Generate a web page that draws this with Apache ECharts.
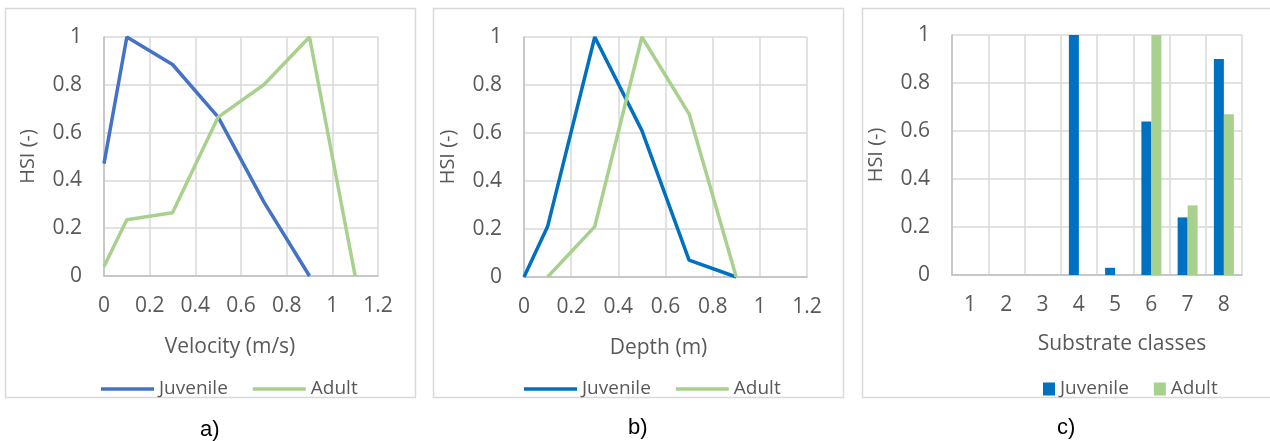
<!DOCTYPE html>
<html>
<head>
<meta charset="utf-8">
<script src="https://cdn.jsdelivr.net/npm/echarts@6/dist/echarts.min.js"></script>
<style>
	html, body { margin: 0; padding: 0; background: #fff; }
	#hsi { width: 1270px; height: 441px; }
</style>
</head>
<body>
<div id="hsi"></div>
<script>
	// a) velocity curves
	var velXJuv = [0, 0.1, 0.3, 0.5, 0.7, 0.9];
	var velJuv = [0.47, 1, 0.885, 0.665, 0.31, 0];
	var velXAdult = [0, 0.1, 0.3, 0.5, 0.7, 0.9, 1.1];
	var velAdult = [0.04, 0.235, 0.265, 0.665, 0.8, 1, 0];

	// b) depth curves
	var depthXJuv = [0, 0.1, 0.3, 0.5, 0.7, 0.9];
	var depthJuv = [0, 0.21, 1, 0.61, 0.07, 0];
	var depthXAdult = [0.1, 0.3, 0.5, 0.7, 0.9];
	var depthAdult = [0, 0.21, 1, 0.68, 0];

	// c) substrate classes
	var substrateClasses = ['1', '2', '3', '4', '5', '6', '7', '8'];
	var subJuv = [0, 0, 0, 1, 0.03, 0.64, 0.24, 0.9];
	var subAdult = [0, 0, 0, 0, 0, 1, 0.29, 0.67];

	var xTicks = [0, 1.2, 0.2]; // min, max, interval
	var yTicks = [0, 1, 0.2];

	var font = '"Open Sans"';
	var grey = '#595959';
	var gridColor = '#D9D9D9';

	// x,y -> [x,y] pairs
	function pairs(xs, ys) {
		var res = [];
		for (var i = 0; i < xs.length; i++) {
			res.push([xs[i], ys[i]]);
		}
		return res;
	}

	var chart = echarts.init(document.getElementById('hsi'));

	var grids = [
		{left: 104, top: 37, width: 274, height: 239},
		{left: 524, top: 37, width: 283, height: 240},
		{left: 952, top: 35, width: 290, height: 240}
	];

	function yAxis(i) {
		return {
			type: 'value', gridIndex: i,
			min: yTicks[0], max: yTicks[1], interval: yTicks[2],
			name: 'HSI (-)', nameLocation: 'middle', nameGap: 66,
			nameTextStyle: {fontFamily: font, fontSize: 20, color: grey},
			axisLine: {show: true, lineStyle: {color: '#BFBFBF', width: 1.5}},
			axisTick: {show: false},
			axisLabel: {fontFamily: font, fontSize: 21, color: grey, margin: 22},
			splitLine: {lineStyle: {color: gridColor, width: 1.5}}
		};
	}

	function valueX(i, name, pad) {
		return {
			type: 'value', gridIndex: i,
			min: xTicks[0], max: xTicks[1], interval: xTicks[2],
			name: name, nameLocation: 'middle', nameGap: 61,
			nameTextStyle: {fontFamily: font, fontSize: 21, color: grey, padding: pad},
			axisLine: {show: true, lineStyle: {color: '#BFBFBF', width: 1.5}},
			axisTick: {show: false},
			axisLabel: {fontFamily: font, fontSize: 21, color: grey, margin: 20},
			splitLine: {show: true, lineStyle: {color: gridColor, width: 1.5}}
		};
	}

	function lineSeries(name, idx, data, color) {
		return {
			name: name, type: 'line',
			xAxisIndex: idx, yAxisIndex: idx,
			symbol: 'none',
			lineStyle: {color: color, width: 3.5},
			itemStyle: {color: color},
			data: data
		};
	}

	function legend(left, items, w, h) {
		return {
			left: left, top: 373,
			icon: 'rect',
			itemWidth: w, itemHeight: h, itemGap: 25,
			textStyle: {fontFamily: font, fontSize: 19, color: grey, lineHeight: 22},
			data: items
		};
	}

	var option = {
		animation: false,
		grid: grids,
		xAxis: [
			valueX(0, 'Velocity (m/s)', [0, 22, 0, 0]),
			valueX(1, 'Depth (m)', [0, 14, 0, 0]),
			{
				type: 'category', gridIndex: 2, data: substrateClasses,
				name: 'Substrate classes', nameLocation: 'middle', nameGap: 59,
				nameTextStyle: {fontFamily: font, fontSize: 21, color: grey, padding: [0, 0, 0, 50]},
				axisLine: {show: true, lineStyle: {color: '#BFBFBF', width: 1.5}},
				axisTick: {show: false},
				axisLabel: {fontFamily: font, fontSize: 21, color: grey, margin: 20},
				splitLine: {show: true, lineStyle: {color: gridColor, width: 1.5}}
			}
		],
		yAxis: [yAxis(0), yAxis(1), yAxis(2)],
		legend: [
			legend(96, [
				{name: 'Juvenile', itemStyle: {color: '#4472C4'}},
				{name: 'Adult', itemStyle: {color: '#A9D18E'}}
			], 53, 3.5),
			legend(519, [
				{name: 'Juvenile', itemStyle: {color: '#0070C0'}},
				{name: 'Adult', itemStyle: {color: '#A9D18E'}}
			], 53, 3.5),
			legend(1038, [
				{name: 'Juvenile', itemStyle: {color: '#0070C0'}},
				{name: 'Adult', itemStyle: {color: '#A9D18E'}}
			], 12, 13)
		],
		series: [
			lineSeries('Juvenile', 0, pairs(velXJuv, velJuv), '#4472C4'),
			lineSeries('Adult', 0, pairs(velXAdult, velAdult), '#A9D18E'),
			lineSeries('Juvenile', 1, pairs(depthXJuv, depthJuv), '#0070C0'),
			lineSeries('Adult', 1, pairs(depthXAdult, depthAdult), '#A9D18E'),
			{
				name: 'Juvenile', type: 'bar', xAxisIndex: 2, yAxisIndex: 2,
				barWidth: 10, barGap: '0%',
				itemStyle: {color: '#0070C0'},
				data: subJuv
			},
			{
				name: 'Adult', type: 'bar', xAxisIndex: 2, yAxisIndex: 2,
				barWidth: 10, barGap: '0%',
				itemStyle: {color: '#A9D18E'},
				data: subAdult
			}
		],
		graphic: [
			// panel frames
			{type: 'rect', shape: {x: 5.5, y: 8.5, width: 410, height: 389}, style: {fill: null, stroke: gridColor, lineWidth: 1.5}, silent: true},
			{type: 'rect', shape: {x: 433.5, y: 8.5, width: 410, height: 389}, style: {fill: null, stroke: gridColor, lineWidth: 1.5}, silent: true},
			{type: 'rect', shape: {x: 862.5, y: 8.5, width: 420, height: 389}, style: {fill: null, stroke: gridColor, lineWidth: 1.5}, silent: true},
			// panel captions
			{type: 'text', left: 200, top: 419, style: {text: 'a)', font: '22px "Liberation Sans"', fill: '#000'}},
			{type: 'text', left: 628, top: 417, style: {text: 'b)', font: '22px "Liberation Sans"', fill: '#000'}},
			{type: 'text', left: 1057, top: 417, style: {text: 'c)', font: '22px "Liberation Sans"', fill: '#000'}}
		]
	};

	chart.setOption(option);
</script>
</body>
</html>
